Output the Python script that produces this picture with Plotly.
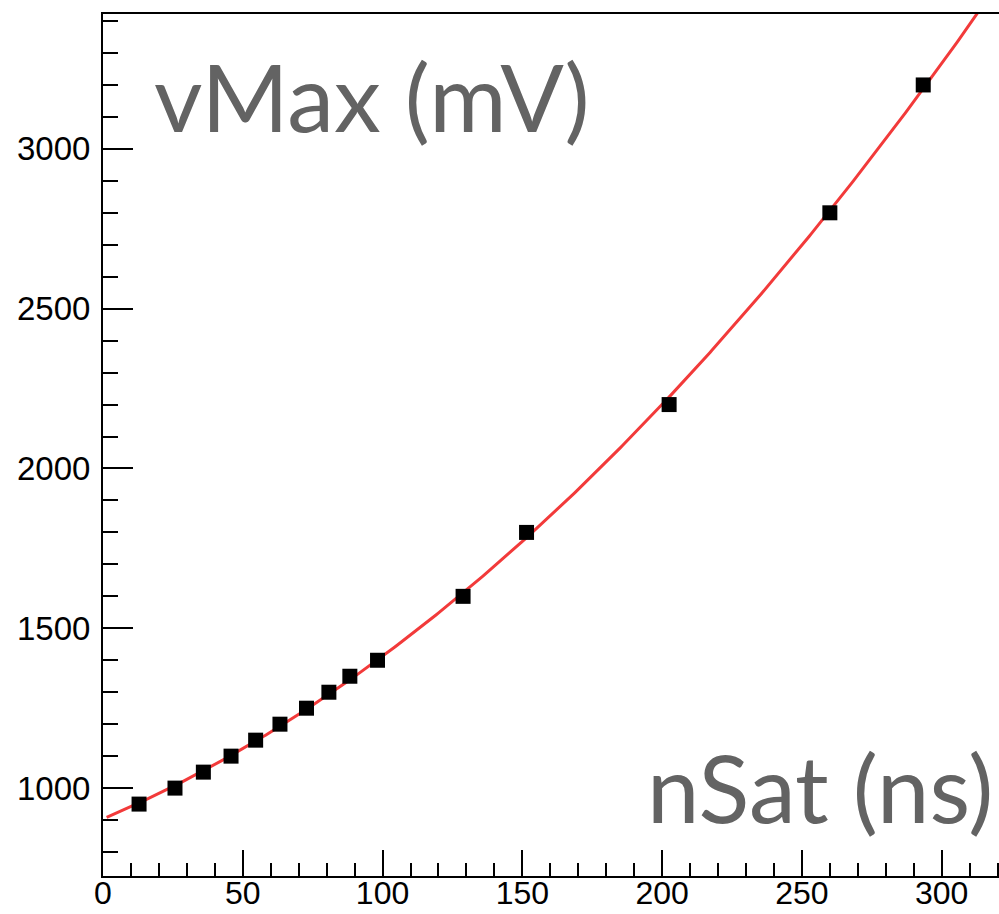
import numpy as np
import plotly.graph_objects as go

# Measured points: saturation width (ns) vs. maximum amplitude (mV)
n_sat = [12.9, 25.75, 35.9, 45.8, 54.6, 63.3, 72.8, 80.8, 88.3, 98.2,
         128.8, 151.5, 202.5, 260.0, 293.4]
v_max = [950, 1000, 1050, 1100, 1150, 1200, 1250, 1300, 1350, 1400,
         1600, 1800, 2200, 2800, 3200]

x_tick_vals = [0, 50, 100, 150, 200, 250, 300]
y_tick_vals = [1000, 1500, 2000, 2500, 3000]

# Second-order polynomial fit through the measurements
coef = np.polyfit(n_sat, v_max, 2)
fit_x = np.linspace(1.3, 330, 400)
fit_y = np.polyval(coef, fit_x)

W, H = 999, 914
ML, MR, MT, MB = 103, 0, 14, 38

fig = go.Figure()
fig.add_trace(go.Scatter(
    x=fit_x, y=fit_y, mode="lines",
    line=dict(color="#f23a3a", width=3), hoverinfo="skip", showlegend=False,
))
fig.add_trace(go.Scatter(
    x=n_sat, y=v_max, mode="markers",
    marker=dict(symbol="square", size=15, color="black", line=dict(width=0)),
    showlegend=False,
))

y_tick_font = dict(family="Liberation Sans, Arial, sans-serif", size=33, color="black")
x_tick_font = dict(family="Liberation Sans, Arial, sans-serif", size=32, color="black")

fig.update_xaxes(
    range=[0, 320.5], showgrid=False, zeroline=False, automargin=False,
    showline=True, linecolor="black", linewidth=2, mirror=True,
    ticks="inside", ticklen=26, tickwidth=2, tickcolor="black",
    tickvals=x_tick_vals, tickfont=x_tick_font, ticklabelstandoff=-12,
    minor=dict(dtick=10, tick0=0, ticks="inside", ticklen=13, tickwidth=2, tickcolor="black"),
)
fig.update_yaxes(
    range=[725, 3422], showgrid=False, zeroline=False, automargin=False,
    showline=True, linecolor="black", linewidth=2, mirror=False,
    ticks="inside", ticklen=30, tickwidth=2, tickcolor="black",
    tickvals=y_tick_vals, tickfont=y_tick_font, ticklabelstandoff=4,
    minor=dict(dtick=100, tick0=0, ticks="inside", ticklen=15, tickwidth=2, tickcolor="black"),
)

pw = W - ML - MR
ph = H - MT - MB
label_font = dict(family="Lato, 'Open Sans', sans-serif", size=94, color="#636363")

fig.add_annotation(
    text="vMax (mV)", xref="paper", yref="paper",
    x=(152 - ML) / pw, y=1 - (37 - MT) / ph,
    xanchor="left", yanchor="top", showarrow=False, font=label_font,
)
fig.add_annotation(
    text="nSat (ns)", xref="paper", yref="paper",
    x=(995 - ML) / pw, y=1 - (728 - MT) / ph,
    xanchor="right", yanchor="top", showarrow=False, font=label_font,
)

fig.update_layout(
    width=W, height=H,
    margin=dict(l=ML, r=MR, t=MT, b=MB),
    paper_bgcolor="white", plot_bgcolor="white",
)

fig.write_html("out.html")
